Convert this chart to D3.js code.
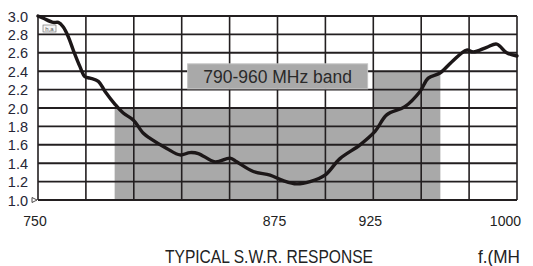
<!DOCTYPE html>
<html>
<head>
<meta charset="utf-8">
<script src="https://cdn.jsdelivr.net/npm/d3@7"></script>
<style>
  html, body { margin: 0; padding: 0; background: #fff; }
  svg { display: block; font-family: "Liberation Sans", Arial, sans-serif; }
</style>
</head>
<body>
<script>
// frequency (MHz) / SWR
const freqs = [750, 752.8, 758, 760.6, 763.2, 765.8, 768.4, 771.9, 774.5, 777.1, 781.5, 785,
  790.2, 794.5, 799.7, 805, 808.5, 817.2, 824.1, 829.3, 833.7, 842.4, 850.2, 853.7, 862.4,
  871.1, 878, 885, 892, 899.8, 907.6, 918.1, 925.9, 932, 941.5, 949.4, 953.7, 959.8, 965.9,
  973.7, 977.2, 984.2, 989.4, 994.6, 1000]
const swr = [3.0, 2.975, 2.93, 2.93, 2.88, 2.775, 2.63, 2.45, 2.34, 2.325, 2.29, 2.18,
  2.04, 1.945, 1.87, 1.725, 1.67, 1.56, 1.49, 1.515, 1.505, 1.415, 1.455, 1.415, 1.31,
  1.27, 1.21, 1.175, 1.2, 1.27, 1.45, 1.6, 1.745, 1.925, 2.015, 2.18, 2.325, 2.38, 2.5,
  2.63, 2.61, 2.66, 2.695, 2.6, 2.565]

const gridFreqs = [750, 775, 800, 825, 850, 875, 900, 925, 950, 975, 1000]
const freqLabels = [750, 875, 925, 1000]
const swrTicks = [1.0, 1.2, 1.4, 1.6, 1.8, 2.0, 2.2, 2.4, 2.6, 2.8, 3.0]

// shaded band, drawn as two steps
const bandFrom = [790, 925]
const bandTo = [925, 960]
const bandTop = [2.0, 2.4]
const bandLabel = '790-960 MHz band'

const W = 533, H = 266
const svg = d3.select('body').append('svg')
  .attr('width', W).attr('height', H)

const x = d3.scaleLinear().domain([750, 1000]).range([38, 517])
const y = d3.scaleLinear().domain([1, 3]).range([200, 16])

const INK = '#231f20'
const GREY = '#a9a9a9'

// grey band
svg.selectAll('rect.band')
  .data(bandFrom)
  .enter().append('rect')
  .attr('class', 'band')
  .attr('x', (d) => x(d))
  .attr('width', (d, i) => x(bandTo[i]) - x(d))
  .attr('y', (d, i) => y(bandTop[i]))
  .attr('height', (d, i) => y(1) - y(bandTop[i]))
  .attr('fill', GREY)

// grid
svg.selectAll('line.vgrid')
  .data(gridFreqs)
  .enter().append('line')
  .attr('x1', (d) => x(d)).attr('x2', (d) => x(d))
  .attr('y1', y(3)).attr('y2', y(1))
  .attr('stroke', INK).attr('stroke-width', 1.6)

svg.selectAll('line.hgrid')
  .data(swrTicks)
  .enter().append('line')
  .attr('x1', x(750)).attr('x2', x(1000))
  .attr('y1', (d) => y(d)).attr('y2', (d) => y(d))
  .attr('stroke', INK).attr('stroke-width', 1.9)

// little arrow at the origin
svg.append('path')
  .attr('d', `M${x(750) - 6},${y(1) - 2.5} L${x(750) - 1},${y(1)} L${x(750) - 6},${y(1) + 2.5} Z`)
  .attr('fill', '#fff').attr('stroke', INK).attr('stroke-width', 0.8)

// tiny logo box in the corner
const logo = svg.append('g').attr('transform', `translate(${x(750) + 5},${y(3) + 9})`)
logo.append('rect').attr('width', 13).attr('height', 7)
  .attr('fill', '#f4f4f4').attr('stroke', '#666').attr('stroke-width', 0.6)
logo.append('text').attr('x', 6.5).attr('y', 5.8)
  .attr('text-anchor', 'middle').attr('font-size', 6).attr('fill', '#555')
  .text('h,a')

// response curve
const line = d3.line()
  .x((d, i) => x(freqs[i]))
  .y((d) => y(d))
  .curve(d3.curveCatmullRom.alpha(0.5))

svg.append('path')
  .datum(swr)
  .attr('d', line)
  .attr('fill', 'none')
  .attr('stroke', '#1c1718')
  .attr('stroke-width', 3.4)
  .attr('stroke-linejoin', 'round')
  .attr('stroke-linecap', 'round')

// band label box
svg.append('rect')
  .attr('x', x(790) + 73).attr('y', y(2.48))
  .attr('width', 180).attr('height', 25)
  .attr('fill', GREY).attr('stroke', '#c4c4c4').attr('stroke-width', 1)
svg.append('text')
  .attr('x', x(790) + 163).attr('y', y(2.48) + 19)
  .attr('text-anchor', 'middle')
  .attr('font-size', 17.5)
  .attr('fill', '#2a2a2a')
  .text(bandLabel)

// y labels
svg.selectAll('text.ylab')
  .data(swrTicks)
  .enter().append('text')
  .attr('x', 28)
  .attr('y', (d) => y(d) + 5.5)
  .attr('text-anchor', 'end')
  .attr('font-size', 14.5)
  .attr('fill', '#262636')
  .text((d) => d.toFixed(1))

// x labels
svg.selectAll('text.xlab')
  .data(freqLabels)
  .enter().append('text')
  .attr('x', (d) => d === 1000 ? x(d) + 4 : x(d) - 3)
  .attr('y', 225.5)
  .attr('text-anchor', (d) => d === 1000 ? 'end' : 'middle')
  .attr('font-size', 14)
  .attr('fill', '#222')
  .text((d) => d)

svg.append('text')
  .attr('x', 165).attr('y', 263)
  .attr('font-size', 17.5)
  .attr('textLength', 208)
  .attr('lengthAdjust', 'spacingAndGlyphs')
  .attr('fill', '#222')
  .text('TYPICAL S.W.R. RESPONSE')

svg.append('text')
  .attr('x', 478).attr('y', 263)
  .attr('font-size', 17.5)
  .attr('textLength', 42)
  .attr('lengthAdjust', 'spacingAndGlyphs')
  .attr('fill', '#222')
  .text('f.(MH')
</script>
</body>
</html>
